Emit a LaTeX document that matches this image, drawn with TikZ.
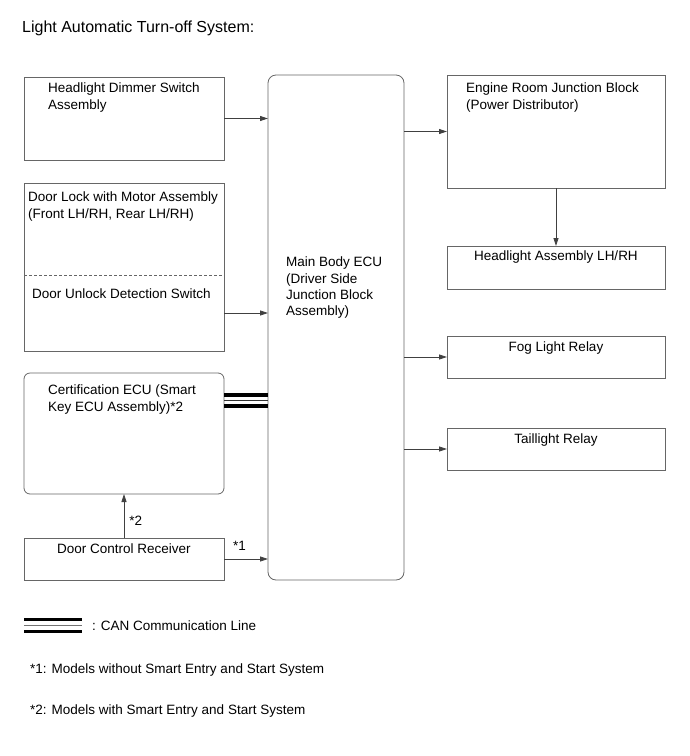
\documentclass[tikz,border=0pt]{standalone}
\usepackage{fontspec}
\setmainfont{Liberation Sans}
\usetikzlibrary{arrows.meta, positioning, calc}

\begin{document}
\begin{tikzpicture}[
    x=1pt, y=-1pt,
    >={Triangle[length=8pt,width=5pt]},
    box/.style={rectangle, draw=black!60, line width=0.8pt, minimum width=200pt, anchor=north west, inner sep=0pt, outer sep=0pt},
    roundbox/.style={box, rounded corners=6pt},
    area/.style={rectangle, minimum width=200pt, inner sep=0pt, outer sep=0pt},
    txt/.style={anchor=north west, align=left, inner sep=0pt, font=\fontsize{13.5}{16.3}\selectfont},
    ctxt/.style={txt, anchor=north, align=center},
    link/.style={->, draw=black!75, line width=0.8pt},
    can/.style={draw=black, line width=3.5pt},
    canmid/.style={draw=black!80, line width=1pt}
]
\useasboundingbox (0,0) rectangle (690,756);

% Title
\node[txt, font=\fontsize{16}{19}\selectfont] (title) at (22,21) {Light Automatic Turn-off System:};

% Left column
\node[box, minimum height=83pt] (dimmer) at (24,77) {};
\node[txt] (dimmertxt) at ([xshift=24,yshift=-6]dimmer.north west) {Headlight Dimmer Switch\\Assembly};

\node[box, minimum height=168pt] (doorbox) at (24,183) {};
\node[area, minimum height=76pt, anchor=south] (unlock) at (doorbox.south) {};
\draw[black!60, line width=0.8pt, dash pattern=on 3pt off 2pt] (unlock.north west) -- (unlock.north east);
\node[txt] (doorlocktxt) at ([xshift=4,yshift=-9]doorbox.north west) {Door Lock with Motor Assembly\\(Front LH/RH, Rear LH/RH)};
\node[txt] (unlocktxt) at ([xshift=8,yshift=-14]unlock.north west) {Door Unlock Detection Switch};

\node[roundbox, minimum height=121pt] (cert) at (24,373) {};
\node[txt] (certtxt) at ([xshift=24,yshift=-12]cert.north west) {Certification ECU (Smart\\Key ECU Assembly)*2};

\node[box, minimum height=42pt] (dcr) at (24,538) {};
\node[ctxt] (dcrtxt) at ([yshift=-6]dcr.north) {Door Control Receiver};

% Main Body ECU
\node[box, rounded corners=8pt, minimum width=136pt, minimum height=505pt] (main) at (268,75) {};
\node[txt] (maintxt) at ([xshift=18,yshift=-182]main.north west) {Main Body ECU\\(Driver Side\\Junction Block\\Assembly)};

% Right column
\node[box, minimum width=218pt, minimum height=113pt] (engine) at (447,75) {};
\node[txt] (enginetxt) at ([xshift=19,yshift=-8]engine.north west) {Engine Room Junction Block\\(Power Distributor)};

\node[box, minimum width=218pt, minimum height=43pt] (headassy) at (447,246) {};
\node[ctxt] (headassytxt) at ([yshift=-5]headassy.north) {Headlight Assembly LH/RH};

\node[box, minimum width=218pt, minimum height=42pt] (fog) at (447,336) {};
\node[ctxt] (fogtxt) at ([yshift=-6]fog.north) {Fog Light Relay};

\node[box, minimum width=218pt, minimum height=42pt] (tail) at (447,428) {};
\node[ctxt] (tailtxt) at ([yshift=-6]tail.north) {Taillight Relay};

% Arrows
\draw[link] (dimmer) -- (dimmer -| main.west);
\draw[link] (unlock) -- (unlock -| main.west);
\draw[link] (dcr) -- (cert) node[txt, pos=0.4, anchor=west, xshift=5] (star2) {*2};
\draw[link] (dcr) -- (dcr -| main.west) node[txt, pos=0.2, anchor=west, yshift=13] (star1) {*1};
\draw[link] (engine -| main.east) -- (engine);
\draw[link] (engine) -- (headassy);
\draw[link] (fog -| main.east) -- (fog);
\draw[link] (tail -| main.east) -- (tail);

% CAN line
\coordinate (canA) at ([yshift=-22]cert.north east);
\coordinate (canB) at ([yshift=-27.5]cert.north east);
\coordinate (canC) at ([yshift=-33]cert.north east);
\draw[can] (canA) -- (canA -| main.west);
\draw[canmid] (canB) -- (canB -| main.west);
\draw[can] (canC) -- (canC -| main.west);

% Legend
\coordinate (legend) at (24,619.5);
\draw[can] (legend) -- ++(58,0);
\draw[canmid, draw=black!55] ($(legend)+(0,5.5)$) -- ++(58,0);
\draw[can] ($(legend)+(0,12)$) -- ++(58,0);
\node[txt, anchor=west] (canlegend) at (92,626) {: CAN Communication Line};
\node[txt] (note1) at (30,664) {*1: Models without Smart Entry and Start System};
\node[txt] (note2) at (30,705) {*2: Models with Smart Entry and Start System};

\end{tikzpicture}
\end{document}
